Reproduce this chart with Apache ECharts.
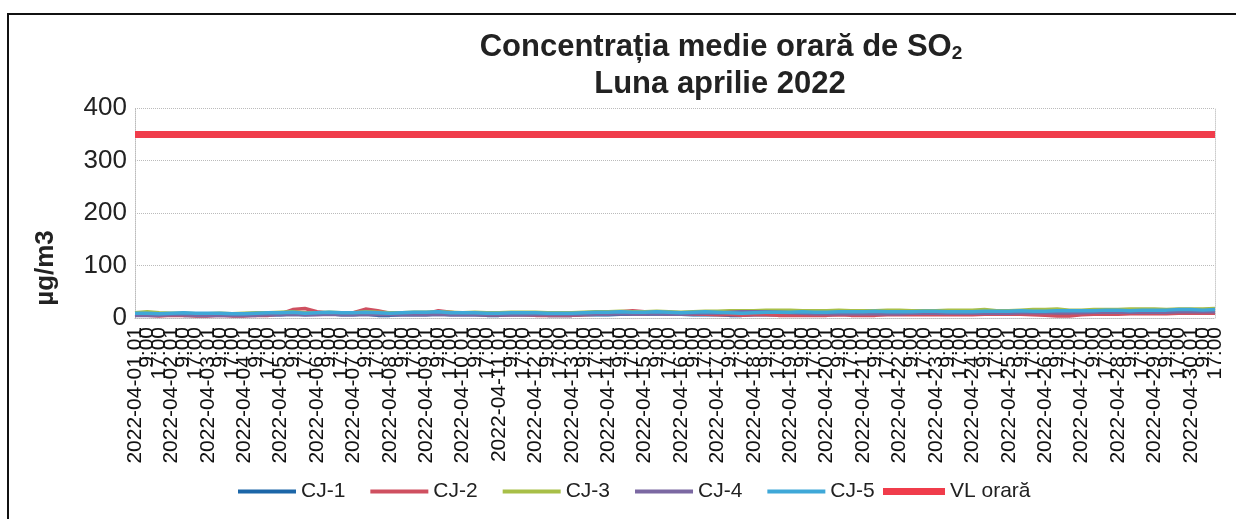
<!DOCTYPE html>
<html>
<head>
<meta charset="utf-8">
<script src="https://cdn.jsdelivr.net/npm/echarts@6/dist/echarts.min.js"></script>
<style>
  html, body { margin: 0; padding: 0; background: #fff; }
  #chart { width: 1236px; height: 519px; }
</style>
</head>
<body>
<div id="chart"></div>
<script>
// zile si ore afisate pe axa X (din 8 in 8 ore)
const days = [
  '2022-04-01', '2022-04-02', '2022-04-03', '2022-04-04', '2022-04-05',
  '2022-04-06', '2022-04-07', '2022-04-08', '2022-04-09', '2022-04-10',
  '2022-04-11', '2022-04-12', '2022-04-13', '2022-04-14', '2022-04-15',
  '2022-04-16', '2022-04-17', '2022-04-18', '2022-04-19', '2022-04-20',
  '2022-04-21', '2022-04-22', '2022-04-23', '2022-04-24', '2022-04-25',
  '2022-04-26', '2022-04-27', '2022-04-28', '2022-04-29', '2022-04-30',
]
const hourLabels = [' 01', '9:00', '17:00']
const yTicks = [0, 100, 200, 300, 400]

// valori SO2 (µg/m3)
const cj1 = [
  7, 6, 5, 6, 5, 5, 5, 6, 5, 5, 6, 6, 6, 7, 6, 7, 8, 6, 6, 7, 5, 5, 6, 6, 6, 7, 6, 6, 6, 5,
  5, 6, 6, 6, 5, 5, 5, 6, 6, 6, 7, 7, 7, 8, 7, 7, 6, 6, 6, 5, 5, 6, 6, 6, 6, 7, 6, 6, 7, 7,
  7, 8, 7, 7, 7, 8, 8, 7, 7, 7, 8, 8, 8, 9, 8, 8, 9, 9, 9, 9, 10, 10, 9, 10, 9, 10, 10, 10, 10, 11,
]
const cj2 = [
  6, 5, 4, 5, 5, 4, 4, 5, 4, 4, 5, 5, 8, 16, 18, 12, 9, 8, 10, 17, 14, 9, 7, 7, 8, 14, 11, 8, 7, 6,
  6, 6, 6, 5, 5, 5, 5, 6, 7, 8, 12, 14, 12, 9, 8, 7, 7, 7, 6, 6, 5, 6, 6, 5, 5, 5, 5, 5, 6, 5,
  5, 5, 6, 6, 6, 6, 6, 6, 6, 6, 7, 7, 7, 7, 6, 5, 4, 4, 6, 7, 7, 7, 8, 8, 8, 8, 9, 9, 9, 9,
]
const cj3 = [
  10, 12, 10, 9, 9, 8, 8, 9, 8, 9, 10, 10, 11, 12, 10, 10, 11, 10, 10, 12, 11, 10, 10, 11, 11, 12, 11, 10, 11, 10,
  10, 11, 11, 11, 10, 10, 10, 11, 12, 12, 13, 12, 12, 13, 12, 11, 12, 13, 13, 14, 14, 14, 15, 15, 15, 14, 14, 14, 15, 14,
  14, 14, 15, 15, 14, 14, 14, 15, 15, 15, 16, 14, 14, 15, 16, 16, 17, 15, 15, 16, 16, 16, 17, 17, 17, 16, 17, 17, 17, 18,
]
const cj4 = [
  5, 5, 5, 6, 6, 5, 5, 5, 5, 5, 5, 6, 6, 7, 6, 6, 7, 6, 6, 7, 6, 6, 6, 6, 6, 7, 6, 6, 6, 6,
  6, 6, 6, 6, 6, 6, 6, 7, 7, 7, 8, 7, 7, 8, 7, 7, 8, 9, 9, 11, 12, 12, 12, 11, 10, 9, 8, 8, 8, 8,
  8, 8, 8, 8, 9, 9, 9, 9, 9, 9, 9, 9, 9, 10, 10, 10, 10, 10, 10, 11, 11, 11, 11, 11, 11, 11, 12, 12, 12, 12,
]
const cj5 = [
  9, 9, 8, 9, 10, 9, 9, 9, 8, 8, 9, 10, 10, 11, 9, 10, 11, 10, 10, 11, 10, 9, 10, 11, 11, 12, 10, 10, 10, 9,
  9, 10, 10, 10, 9, 9, 9, 10, 11, 11, 12, 11, 11, 12, 11, 10, 11, 12, 11, 10, 9, 10, 11, 11, 11, 12, 11, 11, 12, 12,
  12, 13, 12, 12, 12, 13, 13, 12, 12, 12, 13, 13, 13, 14, 13, 13, 14, 14, 14, 14, 15, 15, 14, 15, 15, 15, 16, 16, 15, 16,
]
const vlOrara = 350 // valoare limita orara

const seriesNames = ['CJ-1', 'CJ-2', 'CJ-3', 'CJ-4', 'CJ-5']
const seriesData = [cj1, cj2, cj3, cj4, cj5]
const colors = ['#1c66a8', '#cf5060', '#a8bf48', '#7b68a2', '#3fa8d8']

const font = "'Liberation Sans', Arial, sans-serif"
const categories = []
days.forEach((d) => {
  hourLabels.forEach((h, i) => categories.push(i === 0 ? d + h : h))
})

const chart = echarts.init(document.getElementById('chart'))

let series = seriesData.map((data, index) => ({
  name: seriesNames[index],
  type: 'line',
  symbol: 'none',
  color: colors[index],
  lineStyle: { width: 3.5 },
  z: 3,
  data,
}))
// linia VL orara
series.push({
  name: 'VL orară',
  type: 'line',
  symbol: 'none',
  color: '#f03c4b',
  data: [],
  markLine: {
    symbol: 'none',
    silent: true,
    label: { show: false },
    lineStyle: { color: '#f03c4b', width: 7, type: 'solid' },
    data: [{ yAxis: vlOrara }],
  },
})

const option = {
  animation: false,
  textStyle: { fontFamily: font },
  graphic: [
    {
      type: 'rect',
      shape: { x: 8, y: 14, width: 1300, height: 600 },
      style: { fill: 'none', stroke: '#111', lineWidth: 2 },
    },
    {
      type: 'text',
      x: 721,
      y: 47,
      style: {
        text: '{a|Concentrația medie orară de SO}{s|2}',
        align: 'center',
        verticalAlign: 'middle',
        rich: {
          a: { font: 'bold 31px ' + font, fill: '#222' },
          s: { font: 'bold 19px ' + font, fill: '#222', padding: [14, 0, 0, 0] },
        },
      },
    },
    {
      type: 'text',
      x: 720,
      y: 84,
      style: {
        text: 'Luna aprilie 2022',
        align: 'center',
        verticalAlign: 'middle',
        font: 'bold 31px ' + font,
        fill: '#222',
      },
    },
    {
      type: 'text',
      x: 46,
      y: 268,
      rotation: Math.PI / 2,
      style: {
        text: 'µg/m3',
        align: 'center',
        verticalAlign: 'middle',
        font: 'bold 26px ' + font,
        fill: '#222',
      },
    },
  ],
  legend: [
    {
      data: seriesNames,
      left: 233,
      top: 476,
      icon: 'rect',
      itemWidth: 58,
      itemHeight: 4,
      itemGap: 25,
      textStyle: { fontSize: 21, color: '#222', fontFamily: font },
    },
    {
      data: ['VL orară'],
      left: 878,
      top: 476,
      icon: 'rect',
      itemWidth: 62,
      itemHeight: 7,
      textStyle: { fontSize: 21, color: '#222', fontFamily: font },
    },
  ],
  grid: {
    left: 135,
    right: 21,
    top: 108,
    bottom: 201,
    containLabel: false,
  },
  xAxis: {
    type: 'category',
    data: categories,
    boundaryGap: false,
    axisLine: { lineStyle: { color: '#bbb', type: 'dotted' } },
    axisTick: { show: false },
    axisLabel: {
      interval: 0,
      rotate: 90,
      margin: 9,
      fontSize: 21,
      color: '#111',
      fontFamily: font,
    },
  },
  yAxis: [
    {
      type: 'value',
      min: yTicks[0],
      max: yTicks[yTicks.length - 1],
      interval: 100,
      axisLine: { show: true, lineStyle: { color: '#bbb', type: 'dotted' } },
      axisTick: { show: false },
      axisLabel: { fontSize: 26, color: '#222', margin: 8, fontFamily: font },
      splitLine: { lineStyle: { color: '#bbb', type: 'dotted' } },
    },
    {
      type: 'value',
      position: 'right',
      min: yTicks[0],
      max: yTicks[yTicks.length - 1],
      interval: 100,
      axisLine: { show: true, lineStyle: { color: '#ccc', type: 'dotted' } },
      axisTick: { show: false },
      axisLabel: { show: false },
      splitLine: { show: false },
    },
  ],
  series,
}

chart.setOption(option)
</script>
</body>
</html>
